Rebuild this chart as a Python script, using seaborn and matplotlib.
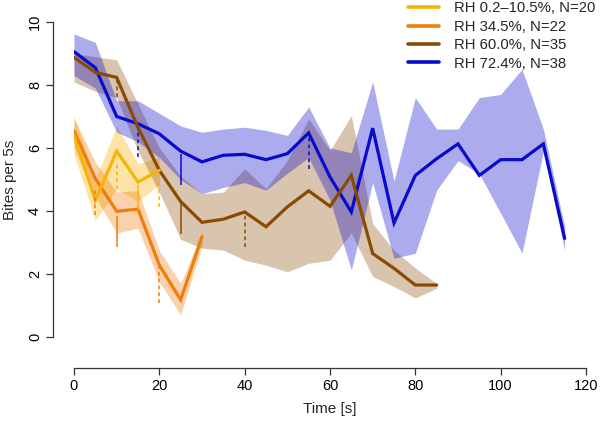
import numpy as np
import pandas as pd
import seaborn as sns
import matplotlib
matplotlib.use("Agg")
import matplotlib.pyplot as plt
from matplotlib.lines import Line2D

# series data
labels = ["RH 0.2\u201310.5%, N=20", "RH 34.5%, N=22", "RH 60.0%, N=35", "RH 72.4%, N=38"]
colors = ["#F9B208", "#EE7D0C", "#8B4A02", "#0A0ACC"]

t_yellow = [0, 5, 10, 15, 20]
y_yellow = [6.40, 4.34, 5.90, 4.92, 5.29]
lo_yellow = [5.8, 3.7, 4.7, 4.3, 4.85]
hi_yellow = [7.0, 5.0, 6.7, 5.5, 5.7]

t_orange = [0, 5, 10, 15, 20, 25, 30]
y_orange = [6.54, 5.03, 3.99, 4.06, 2.28, 1.18, 3.18]
lo_orange = [6.0, 4.45, 3.3, 3.45, 1.75, 0.7, 2.9]
hi_orange = [6.95, 5.55, 4.6, 4.65, 2.75, 1.7, 3.35]

t_brown = [0, 5, 10, 15, 20, 25, 30, 35, 40, 45, 50, 55, 60, 65, 70, 75, 80, 85]
y_brown = [8.88, 8.40, 8.24, 6.65, 5.29, 4.30, 3.64, 3.74, 3.97, 3.50, 4.13, 4.64,
           4.15, 5.13, 2.65, 2.18, 1.65, 1.65]
lo_brown = [8.1, 7.8, 7.6, 5.9, 4.6, 3.1, 2.82, 2.76, 2.44, 2.28, 2.07, 2.34,
            2.44, 3.3, 1.92, 1.6, 1.24, 1.55]
hi_brown = [9.0, 8.9, 8.8, 7.4, 6.0, 5.1, 4.55, 4.6, 5.34, 4.71, 5.6, 6.93,
            5.92, 7.03, 3.6, 2.75, 2.19, 1.7]

t_blue = list(range(0, 120, 5))
y_blue = [9.06, 8.55, 7.00, 6.77, 6.45, 5.90, 5.56, 5.77, 5.80, 5.63, 5.82, 6.48,
          5.08, 3.97, 6.63, 3.62, 5.13, 5.66, 6.13, 5.13, 5.63, 5.63, 6.13, 3.13]
lo_blue = [8.3, 7.9, 6.5, 6.2, 5.7, 5.0, 4.55, 4.75, 4.9, 4.66, 5.2, 5.7,
           4.34, 2.13, 4.9, 2.5, 2.66, 4.66, 5.6, 5.18, 3.93, 2.66, 5.9, 2.75]
hi_blue = [9.62, 9.35, 7.5, 7.5, 7.1, 6.7, 6.5, 6.6, 6.66, 6.56, 6.4, 7.3,
           6.0, 5.85, 8.1, 4.95, 7.6, 6.6, 6.6, 7.6, 7.7, 8.5, 6.6, 3.5]

# short vertical marks (series index, time, from, to, dashed?)
mark_series = [1, 2, 0, 1, 3, 0, 0, 1, 3, 2, 2, 3]
mark_t = [5, 10, 10, 10, 15, 15, 20, 20, 25, 25, 40, 55]
mark_lo = [3.87, 7.61, 4.71, 2.85, 5.71, 4.03, 4.13, 1.07, 4.82, 3.27, 2.86, 5.34]
mark_hi = [4.76, 8.19, 5.60, 3.84, 6.61, 4.82, 5.03, 2.28, 5.82, 4.26, 3.97, 6.45]
mark_dashed = [True, True, True, False, True, False, True, True, False, False, True, True]

series = [
    (t_yellow, y_yellow, lo_yellow, hi_yellow),
    (t_orange, y_orange, lo_orange, hi_orange),
    (t_brown, y_brown, lo_brown, hi_brown),
    (t_blue, y_blue, lo_blue, hi_blue),
]
band_alpha = [0.35, 0.35, 0.32, 0.34]

sns.set_style("ticks")
plt.rcParams["font.family"] = ["Liberation Sans", "DejaVu Sans"]

fig = plt.figure(figsize=(6, 4.23), dpi=100)
ax = fig.add_axes([74 / 600, (423 - 337) / 423, 512 / 600, 315 / 423])

df_list = []
for lab, (t, y, lo, hi) in zip(labels, series):
    df_list.append(pd.DataFrame({"t": t, "y": y, "hue": lab}))
res = pd.concat(df_list)

# bands first
for i, (t, y, lo, hi) in enumerate(series):
    ax.fill_between(t, lo, hi, color=colors[i], alpha=band_alpha[i], lw=0)

# lines, drawn blue first so brown sits on top of it
for i in [3, 2, 1, 0]:
    sns.lineplot(x="t", y="y", data=res[res["hue"] == labels[i]], color=colors[i],
                 lw=2.3, ax=ax, legend=False, solid_joinstyle="miter")

for s, t, lo, hi, d in zip(mark_series, mark_t, mark_lo, mark_hi, mark_dashed):
    ax.vlines(t, lo, hi, color=colors[s], lw=1.1,
              linestyles=(0, (2.5, 2)) if d else "solid")

ax.set_xlim(0, 120)
ax.set_ylim(0, 10)
ax.set_xticks(range(0, 121, 20))
ax.set_yticks(range(0, 11, 2))
for sp in ["top", "right"]:
    ax.spines[sp].set_visible(False)
ax.spines["left"].set_position(("outward", 15))
ax.spines["bottom"].set_position(("outward", 22))
ax.spines["left"].set_bounds(0, 10)
ax.spines["bottom"].set_bounds(0, 120)
for sp in ["left", "bottom"]:
    ax.spines[sp].set_color("#333333")
    ax.spines[sp].set_linewidth(0.9)
ax.tick_params(axis="both", length=5, width=0.9, color="#333333",
               labelsize=10.5, pad=3, labelcolor="black")
for lbl in ax.get_yticklabels():
    lbl.set_rotation(90)
    lbl.set_va("center")
ax.set_xlabel("Time [s]", fontsize=11, labelpad=7)
ax.set_ylabel("Bites per 5s", fontsize=11, labelpad=8)

handles = [Line2D([0], [0], color=c, lw=2.6) for c in colors]
ax.legend(handles, labels, loc="upper left", bbox_to_anchor=(408 / 600, 0.997),
          bbox_transform=fig.transFigure, frameon=False, fontsize=10.7,
          handlelength=2.1, handletextpad=1.0, labelspacing=0.3,
          borderpad=0, borderaxespad=0)

fig.savefig("out.png", dpi=100)
